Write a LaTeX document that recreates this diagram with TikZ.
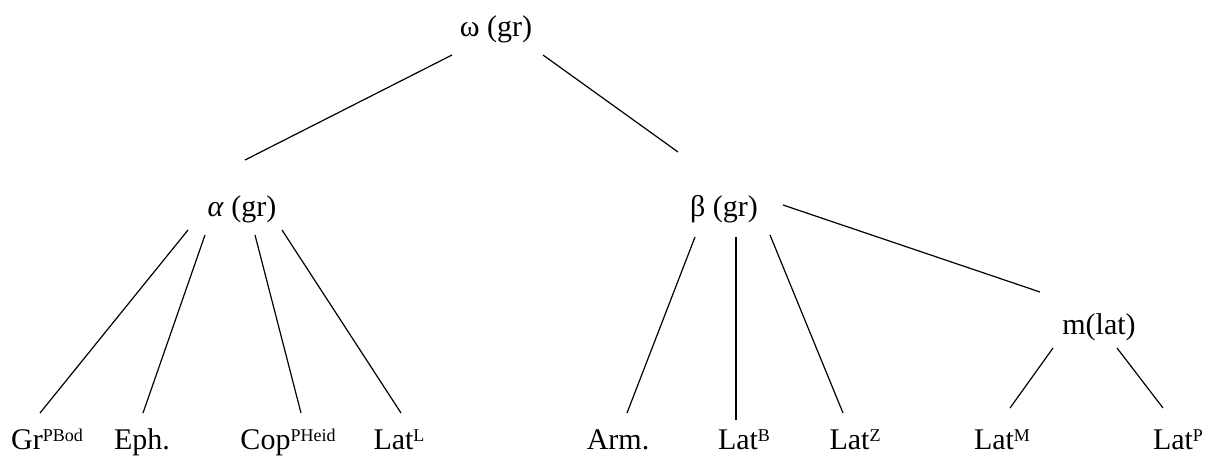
\documentclass[tikz,border=0pt]{standalone}
\usepackage{fontspec}
\setmainfont{Liberation Serif}
\usetikzlibrary{calc}
\newcommand\supx[1]{\raisebox{8pt}{\fontsize{18}{18}\selectfont #1}}
\begin{document}
\begin{tikzpicture}[x=1pt,y=-1pt,
  lbl/.style={font=\fontsize{30}{36}\selectfont, inner sep=0pt, anchor=base},
  edge/.style={line width=1.2pt}]
\useasboundingbox (0,0) rectangle (1228,455);
% nodes
\node[lbl] (om)  at (496,36)  {ω (gr)};
\node[lbl] (al)  at (242,216) {\textit{α} (gr)};
\node[lbl] (be)  at (724,216) {β (gr)};
\node[lbl] (ml)  at (1099,334) {m(lat)};
\node[lbl] (gr)  at (47,449)  {Gr\supx{PBod}};
\node[lbl] (eph) at (142,449) {Eph.};
\node[lbl] (cop) at (288,449) {Cop\supx{PHeid}};
\node[lbl] (latl) at (399,449) {Lat\supx{L}};
\node[lbl] (arm) at (618,449) {Arm.};
\node[lbl] (latb) at (744,449) {Lat\supx{B}};
\node[lbl] (latz) at (855,449) {Lat\supx{Z}};
\node[lbl] (latm) at (1002,449) {Lat\supx{M}};
\node[lbl] (latp) at (1178,449) {Lat\supx{P}};
% edges
\draw[edge] ($(om.base)+(-44,19)$) -- ($(al.base)+(3,-56)$);
\draw[edge] ($(om.base)+(47,19)$) -- ($(be.base)+(-46,-64)$);
\draw[edge] ($(al.base)+(-54,14)$) -- ($(gr.base)+(-7,-36)$);
\draw[edge] ($(al.base)+(-37,19)$) -- ($(eph.base)+(1,-36)$);
\draw[edge] ($(al.base)+(13,19)$) -- ($(cop.base)+(13,-36)$);
\draw[edge] ($(al.base)+(40,14)$) -- ($(latl.base)+(2,-36)$);
\draw[edge] ($(be.base)+(-29,21)$) -- ($(arm.base)+(9,-36)$);
\draw[edge] ($(be.base)+(12,21)$) -- ($(latb.base)+(-8,-29)$);
\draw[edge] ($(be.base)+(46,19)$) -- ($(latz.base)+(-12,-36)$);
\draw[edge] ($(be.base)+(59,-11)$) -- ($(ml.base)+(-59,-42)$);
\draw[edge] ($(ml.base)+(-46,14)$) -- ($(latm.base)+(8,-41)$);
\draw[edge] ($(ml.base)+(18,14)$) -- ($(latp.base)+(-15,-41)$);
\end{tikzpicture}
\end{document}
